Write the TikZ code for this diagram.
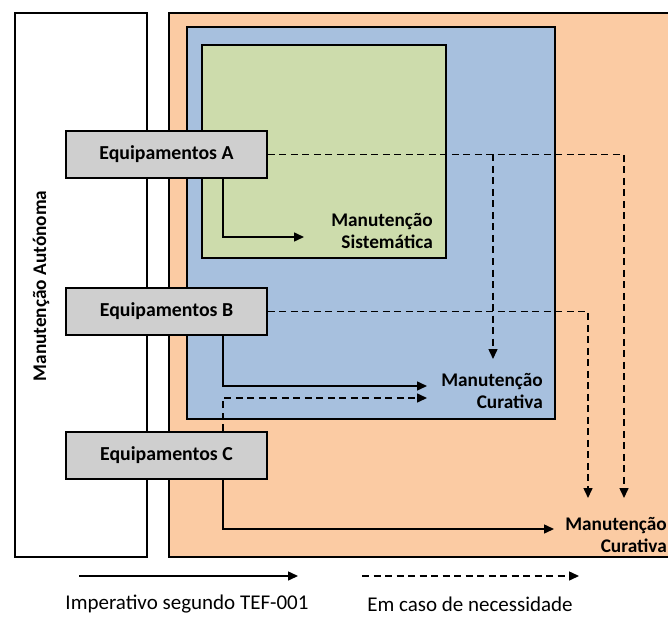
\documentclass[tikz,border=0pt]{standalone}
\usepackage{fontspec}
\setmainfont{Carlito}
\usetikzlibrary{arrows.meta}
\definecolor{orangefill}{HTML}{FBCBA3}
\definecolor{bluefill}{HTML}{A7C0DE}
\definecolor{greenfill}{HTML}{CDDCAC}
\definecolor{boxgray}{HTML}{CFCFCF}
\begin{document}
\begin{tikzpicture}[x=1pt,y=-1pt,
  frame/.style={draw=black,line width=1.6pt},
  equip/.style={draw=black,line width=1.6pt,fill=boxgray,minimum width=201pt,
    minimum height=47pt,inner sep=0pt,font=\bfseries\fontsize{19.8}{22}\selectfont},
  lbl/.style={inner sep=0pt,align=right,font=\bfseries\fontsize{19.3}{22}\selectfont},
  legend/.style={inner sep=0pt,font=\fontsize{21}{24}\selectfont},
  flow/.style={line width=1.5pt,-{Triangle[length=10pt,width=9pt]}},
  maybe/.style={flow,dash pattern=on 7pt off 4.5pt}
]
\useasboundingbox (0,0) rectangle (668,617);
\clip (0,0) rectangle (668,617);

% nested maintenance areas
\fill[orangefill] (169,13) rectangle (680,557);
\draw[frame] (680,13) -- (169,13) -- (169,557) -- (680,557);
\draw[frame,fill=bluefill] (187,27) rectangle (555,419);
\draw[frame,fill=greenfill] (202,45) rectangle (446,258);
\draw[frame,fill=white] (15,13) rectangle (147,557);

\node[lbl,rotate=90] (auto) at (41,286) {Manutenção Autónoma};

% area labels
\node[lbl,anchor=east] (sis) at (433,231) {Manutenção\\Sistemática};
\node[lbl,anchor=east] (curB) at (543,391) {Manutenção\\Curativa};
\node[lbl,anchor=east] (curO) at (667,535) {Manutenção\\Curativa};

% arrow end points
\coordinate (trunk) at (223,0);
\coordinate (tipSys) at (304,237);
\coordinate (tipBS) at (427,386);
\coordinate (tipBD) at (427,398);
\coordinate (tipBA) at (493,359);
\coordinate (tipOS) at (554,529);
\coordinate (tipOB) at (588,498);
\coordinate (tipOA) at (624,498);

% equipment boxes
\node[equip] (A) at (166.5,154.5) {Equipamentos A};
\node[equip] (B) at (166.5,311.5) {Equipamentos B};
\node[equip] (C) at (166.5,455.5) {Equipamentos C};

% flows
\draw[flow] (A.south -| trunk) |- (tipSys);
\draw[flow] (B.south -| trunk) |- (tipBS);
\draw[maybe] (C.north -| trunk) |- (tipBD);
\draw[flow] (C.south -| trunk) |- (tipOS);
\draw[maybe] (A.east) -| (tipOA);
\draw[maybe] (A.east -| tipBA) -- (tipBA);
\draw[maybe] (B.east) -| (tipOB);

% legend
\coordinate (l1s) at (79,576);
\coordinate (l1e) at (298,576);
\coordinate (l2s) at (362,576);
\coordinate (l2e) at (579,576);
\draw[flow] (l1s) -- (l1e);
\draw[maybe] (l2s) -- (l2e);
\node[legend] (imp) at (187,604) {Imperativo segundo TEF-001};
\node[legend] (nec) at (470,604) {Em caso de necessidade};
\end{tikzpicture}
\end{document}
